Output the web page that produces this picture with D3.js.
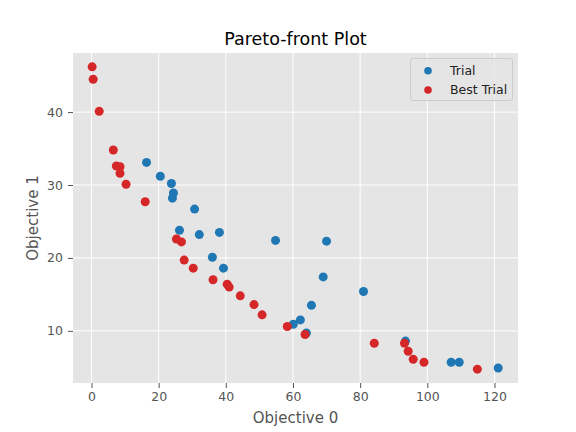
<!DOCTYPE html>
<html>
<head>
<meta charset="utf-8">
<script src="https://cdn.jsdelivr.net/npm/d3@7"></script>
<style>
  body { margin: 0; background: #fff; }
  text { font-family: "DejaVu Sans", sans-serif; }
</style>
</head>
<body>
<div id="chart"></div>
<script>
// trials (objective 0, objective 1)
const trialX = [16.4, 20.5, 23.8, 24.4, 24.1, 30.7, 26.2, 32.1, 38.1, 36.0, 39.3, 54.8, 70.0, 69.0, 81.0, 65.5, 62.2, 60.1, 64.0, 93.5, 107.1, 109.5, 121.1];
const trialY = [33.1, 31.2, 30.2, 28.9, 28.2, 26.7, 23.8, 23.2, 23.5, 20.1, 18.6, 22.4, 22.3, 17.4, 15.4, 13.5, 11.5, 10.9, 9.7, 8.6, 5.7, 5.7, 4.9];

// best trials
const bestX = [0.2, 0.5, 2.3, 6.5, 7.4, 8.5, 8.5, 10.3, 16.0, 25.3, 26.8, 27.6, 30.3, 36.2, 40.4, 41.0, 44.3, 48.4, 50.8, 58.3, 63.6, 84.2, 93.2, 94.3, 95.8, 99.0, 114.9];
const bestY = [46.2, 44.5, 40.1, 34.8, 32.6, 32.5, 31.6, 30.1, 27.7, 22.6, 22.2, 19.7, 18.6, 17.0, 16.4, 16.0, 14.8, 13.6, 12.2, 10.6, 9.5, 8.3, 8.3, 7.2, 6.1, 5.7, 4.75];

const xTicks = [0, 20, 40, 60, 80, 100, 120];
const yTicks = [10, 20, 30, 40];

const margin = { top: 53, right: 58, bottom: 49, left: 73 };
const width = 576 - margin.left - margin.right;
const height = 432 - margin.top - margin.bottom;

const svg = d3
  .select("#chart")
  .append("svg")
  .attr("width", 576)
  .attr("height", 432);

const g = svg
  .append("g")
  .attr("transform", `translate(${margin.left},${margin.top})`);

const xScale = d3.scaleLinear().domain([-5.5, 127]).range([0, width]);
const yScale = d3.scaleLinear().domain([2.85, 48.1]).range([height, 0]);

g.append("rect")
  .attr("width", width)
  .attr("height", height)
  .attr("fill", "#e5e5e5");

// grid
g.selectAll(".xgrid")
  .data(xTicks)
  .join("line")
  .attr("x1", (d) => xScale(d))
  .attr("x2", (d) => xScale(d))
  .attr("y1", 0)
  .attr("y2", height)
  .attr("stroke", "#fff")
  .attr("stroke-width", 1);

g.selectAll(".ygrid")
  .data(yTicks)
  .join("line")
  .attr("x1", 0)
  .attr("x2", width)
  .attr("y1", (d) => yScale(d))
  .attr("y2", (d) => yScale(d))
  .attr("stroke", "#fff")
  .attr("stroke-width", 1);

const xAxis = g
  .append("g")
  .attr("transform", `translate(0,${height})`)
  .call(d3.axisBottom(xScale).tickValues(xTicks).tickSize(5).tickPadding(4));

const yAxis = g
  .append("g")
  .call(d3.axisLeft(yScale).tickValues(yTicks).tickSize(5).tickPadding(5));

[xAxis, yAxis].forEach((ax) => {
  ax.select(".domain").remove();
  ax.selectAll("line").attr("stroke", "#555");
  ax.selectAll("text")
    .attr("fill", "#555")
    .style("font-size", "12.5px")
    .style("font-family", "DejaVu Sans, sans-serif");
});

// points
g.selectAll(".trial")
  .data(trialX.map((x, i) => [x, trialY[i]]))
  .join("circle")
  .attr("cx", (d) => xScale(d[0]))
  .attr("cy", (d) => yScale(d[1]))
  .attr("r", 4.5)
  .attr("fill", "#1f77b4");

g.selectAll(".best")
  .data(bestX.map((x, i) => [x, bestY[i]]))
  .join("circle")
  .attr("cx", (d) => xScale(d[0]))
  .attr("cy", (d) => yScale(d[1]))
  .attr("r", 4.5)
  .attr("fill", "#d62728");

// labels
svg.append("text")
  .attr("x", margin.left + width / 2)
  .attr("y", 45)
  .attr("text-anchor", "middle")
  .style("font-size", "17.5px")
  .attr("fill", "#000")
  .text("Pareto-front Plot");

svg.append("text")
  .attr("x", margin.left + width / 2)
  .attr("y", 423)
  .attr("text-anchor", "middle")
  .style("font-size", "15px")
  .attr("fill", "#555")
  .text("Objective 0");

svg.append("text")
  .attr("transform", `translate(38,${margin.top + height / 2}) rotate(-90)`)
  .attr("text-anchor", "middle")
  .style("font-size", "15px")
  .attr("fill", "#555")
  .text("Objective 1");

// legend
const legendItems = [
  { label: "Trial", color: "#1f77b4" },
  { label: "Best Trial", color: "#d62728" },
];

const legend = svg.append("g").attr("transform", "translate(410.5,58.5)");

legend.append("rect")
  .attr("width", 102)
  .attr("height", 42)
  .attr("rx", 2.5)
  .attr("fill", "#e5e5e5")
  .attr("fill-opacity", 0.8)
  .attr("stroke", "#ccc")
  .attr("stroke-width", 1);

legend.selectAll("circle")
  .data(legendItems)
  .join("circle")
  .attr("cx", 17.5)
  .attr("cy", (d, i) => 12.2 + i * 19.3)
  .attr("r", 3.8)
  .attr("fill", (d) => d.color);

legend.selectAll("text")
  .data(legendItems)
  .join("text")
  .attr("x", 39.5)
  .attr("y", (d, i) => 16.5 + i * 19.3)
  .style("font-size", "12.5px")
  .attr("fill", "#222")
  .text((d) => d.label);
</script>
</body>
</html>
